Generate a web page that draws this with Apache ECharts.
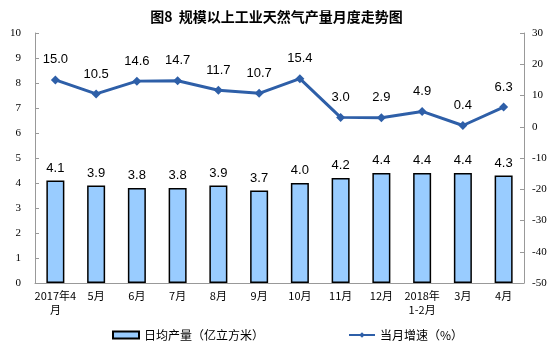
<!DOCTYPE html>
<html>
<head>
<meta charset="utf-8">
<script src="https://cdn.jsdelivr.net/npm/echarts@6/dist/echarts.min.js"></script>
<style>
  html, body { margin: 0; padding: 0; background: #fff; }
  #chart { width: 553px; height: 352px; }
</style>
</head>
<body>
<div id="chart"></div>
<script>
var months = ['2017年4\n月', '5月', '6月', '7月', '8月', '9月', '10月', '11月', '12月', '2018年\n1-2月', '3月', '4月'];
var dailyOutput = [4.1, 3.9, 3.8, 3.8, 3.9, 3.7, 4.0, 4.2, 4.4, 4.4, 4.4, 4.3];
var growthRate = [15.0, 10.5, 14.6, 14.7, 11.7, 10.7, 15.4, 3.0, 2.9, 4.9, 0.4, 6.3];

var chart = echarts.init(document.getElementById('chart'));
var axisFont = { fontFamily: 'Liberation Serif', fontSize: 11, color: '#000' };

chart.setOption({
  animation: false,
  title: {
    text: '图8  规模以上工业天然气产量月度走势图',
    left: 'center',
    top: 5,
    textStyle: { fontSize: 14, fontWeight: 'bold', color: '#000', fontFamily: 'Noto Sans CJK SC' },
  },
  legend: {
    bottom: 6,
    left: 107,
    itemGap: 84,
    itemWidth: 26,
    itemHeight: 7,
    textStyle: { fontSize: 12, color: '#000', fontFamily: 'Noto Sans CJK SC' },
    data: [
      { name: '日均产量（亿立方米）', icon: 'rect' },
      { name: '当月增速（%）' },
    ],
  },
  grid: { left: 35, right: 29, top: 33, bottom: 69 },
  xAxis: {
    type: 'category',
    data: months,
    axisLine: { lineStyle: { color: '#999' } },
    axisTick: { show: false },
    axisLabel: { interval: 0, fontFamily: 'Noto Sans CJK SC', fontSize: 11, color: '#000', margin: 6, lineHeight: 14 },
  },
  yAxis: [
    {
      type: 'value', min: 0, max: 10, interval: 1,
      axisLine: { show: true, lineStyle: { color: '#999' } },
      axisTick: { show: true, inside: true, length: 4, lineStyle: { color: '#999' } },
      splitLine: { show: false },
      axisLabel: Object.assign({ margin: 14 }, axisFont),
    },
    {
      type: 'value', min: -50, max: 30, interval: 10,
      axisLine: { show: true, lineStyle: { color: '#999' } },
      axisTick: { show: true, inside: true, length: 4, lineStyle: { color: '#999' } },
      splitLine: { show: false },
      axisLabel: Object.assign({ margin: 8 }, axisFont),
    },
  ],
  series: [
    {
      name: '日均产量（亿立方米）',
      type: 'bar',
      barWidth: 18,
      data: dailyOutput,
      itemStyle: { color: '#99CCFF', borderColor: '#000', borderWidth: 1.5 },
      label: {
        show: true, position: 'top', distance: 6,
        fontFamily: 'Liberation Sans', fontSize: 13, color: '#000',
        formatter: function (p) { return p.value.toFixed(1); },
      },
    },
    {
      name: '当月增速（%）',
      type: 'line',
      yAxisIndex: 1,
      data: growthRate,
      symbol: 'diamond',
      symbolSize: 9,
      lineStyle: { color: '#2E5FA8', width: 3 },
      itemStyle: { color: '#2E5FA8' },
      label: {
        show: true, position: 'top', distance: 9,
        fontFamily: 'Liberation Sans', fontSize: 13, color: '#000',
        formatter: function (p) { return p.value.toFixed(1); },
      },
    },
  ],
});
</script>
</body>
</html>
